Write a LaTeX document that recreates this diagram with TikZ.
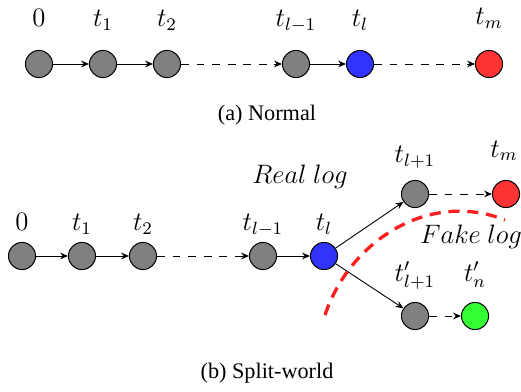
\documentclass[tikz,border=0pt]{standalone}
\usepackage{fontspec}
\setmainfont{Liberation Serif}
\usetikzlibrary{arrows.meta, positioning}
\definecolor{LogGray}{RGB}{128,128,128}
\definecolor{LogBlue}{RGB}{51,51,255}
\definecolor{LogRed}{RGB}{255,51,51}
\definecolor{LogGreen}{RGB}{51,255,51}
\tikzset{
    blk/.style={
        circle,
        draw=black,
        fill=#1,
        line width=0.45pt,
        minimum size=12.2pt,
        inner sep=0pt
    },
    blk/.default=LogGray,
    lbl/.style={
        anchor=base,
        font=\large,
        inner sep=0pt
    },
    link/.style={
        -{Stealth[length=3.5pt,width=3pt]},
        line width=0.4pt,
        black
    },
    gap/.style={
        link,
        dash pattern=on 3.5pt off 3.5pt
    },
    caption/.style={
        anchor=base,
        font=\fontsize{10}{12}\selectfont,
        inner sep=0pt
    }
}
\begin{document}
\begin{tikzpicture}[x=0.45pt, y=-0.45pt]
        \useasboundingbox (0,0) rectangle (521,391);

        % (a) Normal chain
        \node[blk] (a0) at (39,64) {};
        \node[blk] (a1) at (103,64) {};
        \node[blk] (a2) at (167,64) {};
        \node[blk] (a3) at (296,64) {};
        \node[blk=LogBlue] (a4) at (360,64) {};
        \node[blk=LogRed] (a5) at (489,64) {};

        \node[lbl] (la0) at (39,27) {$0$};
        \node[lbl] (la1) at (103,27) {$t_1$};
        \node[lbl] (la2) at (167,27) {$t_2$};
        \node[lbl] (la3) at (296,27) {$t_{l-1}$};
        \node[lbl] (la4) at (360,27) {$t_l$};
        \node[lbl] (la5) at (489,25) {$t_m$};

        \draw[link] (a0) -- (a1);
        \draw[link] (a1) -- (a2);
        \draw[gap] (a2) -- (a3);
        \draw[link] (a3) -- (a4);
        \draw[gap] (a4) -- (a5);

        \node[caption] (capa) at (267,120) {(a) Normal};

        % (b) Split-world chain
        \node[blk] (b0) at (22,256) {};
        \node[blk] (b1) at (82,256) {};
        \node[blk] (b2) at (143,256) {};
        \node[blk] (b3) at (263,256) {};
        \node[blk=LogBlue] (b4) at (324,256) {};
        \node[blk] (up) at (415,194) {};
        \node[blk=LogRed] (upm) at (506,194) {};
        \node[blk] (dn) at (415,316) {};
        \node[blk=LogGreen] (dnn) at (475,316) {};

        \node[lbl] (lb0) at (22,230) {$0$};
        \node[lbl] (lb1) at (82,230) {$t_1$};
        \node[lbl] (lb2) at (143,230) {$t_2$};
        \node[lbl] (lb3) at (263,230) {$t_{l-1}$};
        \node[lbl] (lb4) at (324,230) {$t_l$};
        \node[lbl] (lup) at (415,162) {$t_{l+1}$};
        \node[lbl] (lupm) at (504,157) {$t_m$};
        \node[lbl] (ldn) at (415,281) {$t'_{l+1}$};
        \node[lbl] (ldnn) at (475,281) {$t'_n$};

        \draw[link] (b0) -- (b1);
        \draw[link] (b1) -- (b2);
        \draw[gap] (b2) -- (b3);
        \draw[link] (b3) -- (b4);
        \draw[link] (b4) -- (up);
        \draw[link] (b4) -- (dn);
        \draw[gap] (up) -- (upm);
        \draw[gap] (dn) -- (dnn);

        % worlds
        \node[lbl] (real) at (300,183) {$Real~log$};
        \node[lbl] (fake) at (471,243) {$Fake~log$};
        \draw[LogRed!60!red, line width=1.5pt, dash pattern=on 5pt off 3.5pt]
            (325,315) .. controls (350,240) and (430,190) .. (505,220);

        \node[caption] (capb) at (267,378) {(b) Split-world};
    \end{tikzpicture}
\end{document}
